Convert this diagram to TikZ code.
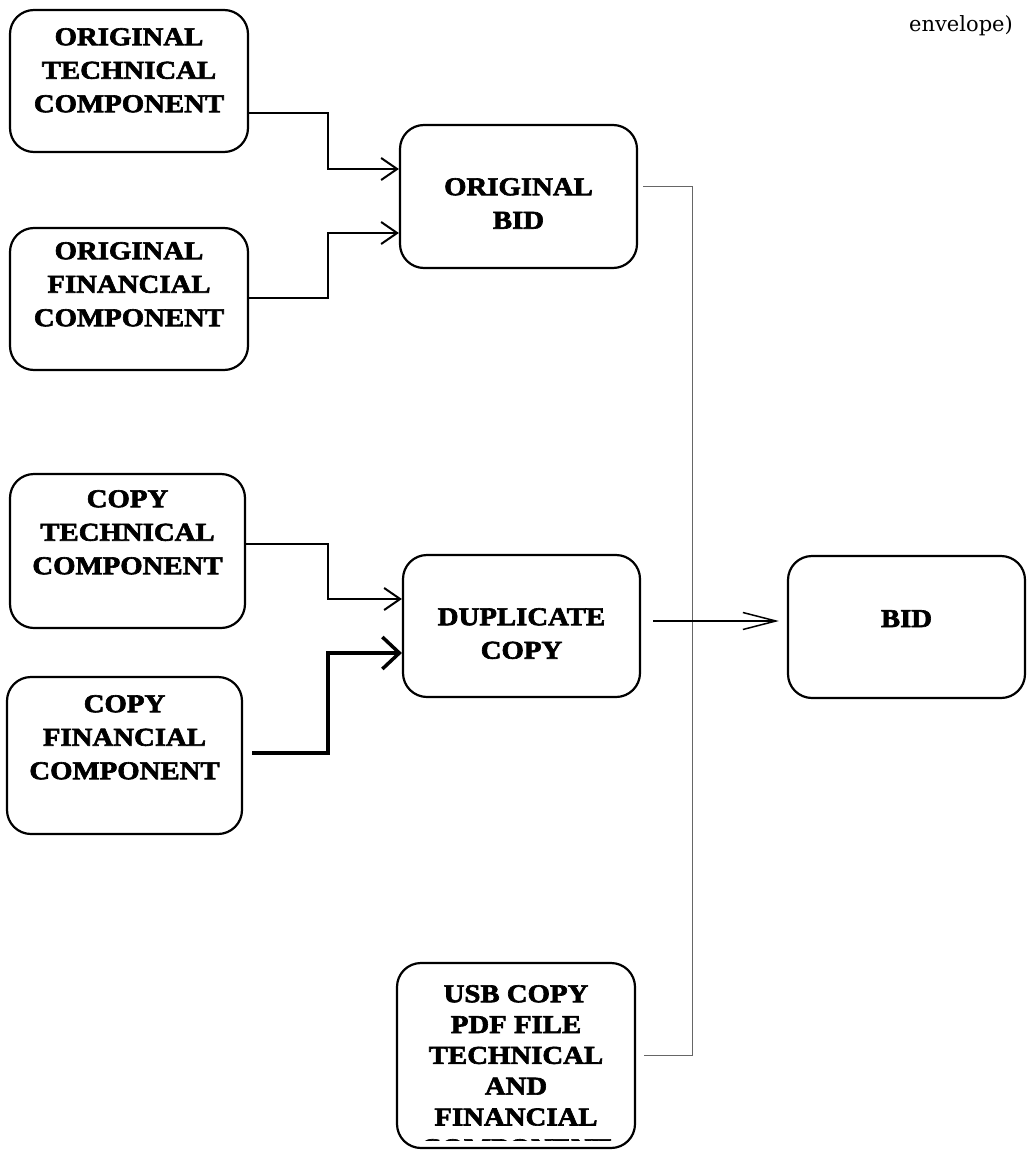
\documentclass[tikz,border=0pt]{standalone}
\usepackage{fontspec}
\setmainfont{Liberation Serif}
\newfontfamily\boxfont{Liberation Serif}[BoldFont={Liberation Serif Bold}, BoldFeatures={FakeStretch=1.12, FakeBold=2.5}, FakeStretch=1.12]
\newfontfamily\notefont{DejaVu Serif}
\usetikzlibrary{arrows.meta,calc}
\begin{document}
\begin{tikzpicture}[x=1pt,y=-1pt,
  box/.style={draw, line width=2.2pt, rounded corners=24pt, inner sep=0pt},
  lbl/.style={font=\boxfont\bfseries\fontsize{25.7}{33.5}\selectfont, align=center, inner sep=0pt, anchor=north},
  usblbl/.style={font=\boxfont\bfseries\fontsize{25.7}{30.8}\selectfont, align=center, inner sep=0pt, anchor=north},
  conn/.style={line width=2pt, -{Straight Barb[length=16pt,width=22pt]}},
  thickconn/.style={line width=3.5pt, -{Straight Barb[length=17pt,width=32pt]}},
  longconn/.style={line width=1.5pt, -{Straight Barb[length=33pt,width=17pt]}},
  gline/.style={line width=1pt, draw=black!60}]
\useasboundingbox (0,0) rectangle (1029,1153);

% boxes
\node[box, minimum width=238pt, minimum height=142pt] (ot) at (129,81) {};
\node[box, minimum width=238pt, minimum height=142pt] (of) at (129,299) {};
\node[box, minimum width=237pt, minimum height=143pt] (ob) at (518.5,196.5) {};
\node[box, minimum width=235pt, minimum height=154pt] (ct) at (127.5,551) {};
\node[box, minimum width=235pt, minimum height=157pt] (cf) at (124.5,755.5) {};
\node[box, minimum width=237pt, minimum height=142pt] (dc) at (521.5,626) {};
\node[box, minimum width=237pt, minimum height=142pt] (bid) at (906.5,627) {};
\node[box, minimum width=238pt, minimum height=185pt] (usb) at (516,1055.5) {};

% labels
\node[lbl] (otl) at (129,28) {ORIGINAL\\TECHNICAL\\COMPONENT};
\node[lbl] (ofl) at (129,242) {ORIGINAL\\FINANCIAL\\COMPONENT};
\node[lbl] (obl) at (518.5,178) {ORIGINAL\\BID};
\node[lbl] (ctl) at (127.5,490) {COPY\\TECHNICAL\\COMPONENT};
\node[lbl] (cfl) at (124.5,695) {COPY\\FINANCIAL\\COMPONENT};
\node[lbl] (dcl) at (521.5,608) {DUPLICATE\\COPY};
\node[lbl] (bidl) at (906.5,610) {BID};
\begin{scope}
\clip (380,940) rectangle (700,1140);
\node[usblbl] (usbl) at (516,985) {USB COPY\\PDF FILE\\TECHNICAL\\AND\\FINANCIAL\\COMPONENT};
\end{scope}

\node[font=\notefont\fontsize{21}{25}\selectfont, anchor=base east, inner sep=0pt] (env) at (1013,32) {envelope)};

% connectors
\draw[conn] ([yshift=-32pt]ot.east) -- ++(79,0) |- ([yshift=27.5pt]ob.west);
\draw[conn] ([yshift=1pt]of.east) -- ++(79,0) |- ([yshift=-36.5pt]ob.west);
\draw[conn] ([yshift=7pt]ct.east) -- ++(82,0) |- ([yshift=27pt]dc.west);
\draw[thickconn] ([xshift=9pt,yshift=2.5pt]cf.east) -- ++(76,0) |- ([yshift=-27pt]dc.west);

\coordinate (bus) at (692,1055.5);
\draw[gline] ([xshift=5pt,yshift=10.5pt]ob.east) -| (bus) -- ([xshift=8pt]usb.east);
\draw[longconn] ([xshift=12pt,yshift=5pt]dc.east) -- ([xshift=-8pt,yshift=6pt]bid.west);
\end{tikzpicture}
\end{document}
